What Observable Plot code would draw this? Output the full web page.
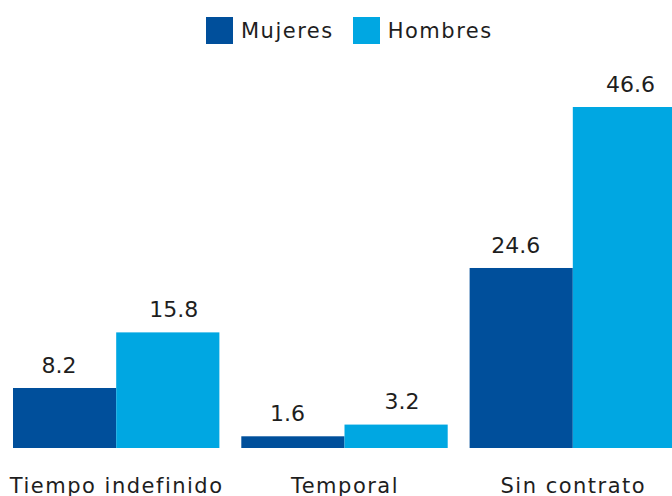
<!DOCTYPE html>
<html>
<head>
<meta charset="utf-8">
<script src="https://cdn.jsdelivr.net/npm/d3@7"></script>
<script src="https://cdn.jsdelivr.net/npm/@observablehq/plot@0.6"></script>
<style>
  html, body { margin: 0; padding: 0; background: #fff; overflow: hidden; width: 672px; height: 496px; }
  #chart { width: 672px; overflow: hidden; }
  .lg-swatch { margin-right: 19px !important; }
  .lg-swatch > svg { margin-right: 8px !important; }
</style>
</head>
<body>
<div id="chart"></div>
<script>
const categories = ["Tiempo indefinido", "Temporal", "Sin contrato"];
const series = ["Mujeres", "Hombres"];
const mujeres = [8.2, 1.6, 24.6];
const hombres = [15.8, 3.2, 46.6];
const colors = ["#004f9b", "#00a7e2"];

const FONT = "'DejaVu Sans', sans-serif";
const TEXT = "#1e1e1e";

const data = categories.flatMap((c, i) => [
  {cat: c, sex: series[0], value: mujeres[i]},
  {cat: c, sex: series[1], value: hombres[i]}
]);

const legend = Plot.legend({
  color: {type: "ordinal", domain: series, range: colors},
  swatchSize: 27,
  className: "lg",
  style: {
    fontFamily: FONT,
    fontSize: "21px",
    letterSpacing: "1.5px",
    color: TEXT,
    margin: "0",
    paddingLeft: "206px",
    paddingTop: "17px",
    height: "41px",
    minHeight: "0",
    alignItems: "flex-start",
    background: "white"
  }
});

const chart = Plot.plot({
  width: 676,
  height: 438,
  marginLeft: 13,
  marginRight: 0,
  marginTop: 49,
  marginBottom: 48,
  style: {fontFamily: FONT, fontSize: "21px", color: TEXT, background: "white", overflow: "visible", maxWidth: "none"},
  fx: {domain: categories, range: [13, 676], round: false, paddingInner: 0.096, paddingOuter: 0, axis: "bottom", label: null, tickSize: 0, tickPadding: 30},
  x: {domain: series, axis: null, padding: 0, round: false},
  y: {domain: [0, 46.6], axis: null},
  color: {domain: series, range: colors},
  marks: [
    Plot.barY(data, {fx: "cat", x: "sex", y: "value", fill: "sex"}),
    Plot.text(data.filter(d => d.sex === series[0]), {fx: "cat", x: "sex", y: "value", text: d => d.value.toFixed(1), dy: -23, dx: -6, lineAnchor: "middle", fill: TEXT, fontSize: 22}),
    Plot.text(data.filter(d => d.sex === series[1]), {fx: "cat", x: "sex", y: "value", text: d => d.value.toFixed(1), dy: -23, dx: 5.5, lineAnchor: "middle", fill: TEXT, fontSize: 22})
  ]
});

chart.querySelectorAll("g[aria-label='fx-axis tick label'] text").forEach(t => t.setAttribute("letter-spacing", "1.5"));

const el = document.getElementById("chart");
el.appendChild(legend);
el.appendChild(chart);
</script>
</body>
</html>
